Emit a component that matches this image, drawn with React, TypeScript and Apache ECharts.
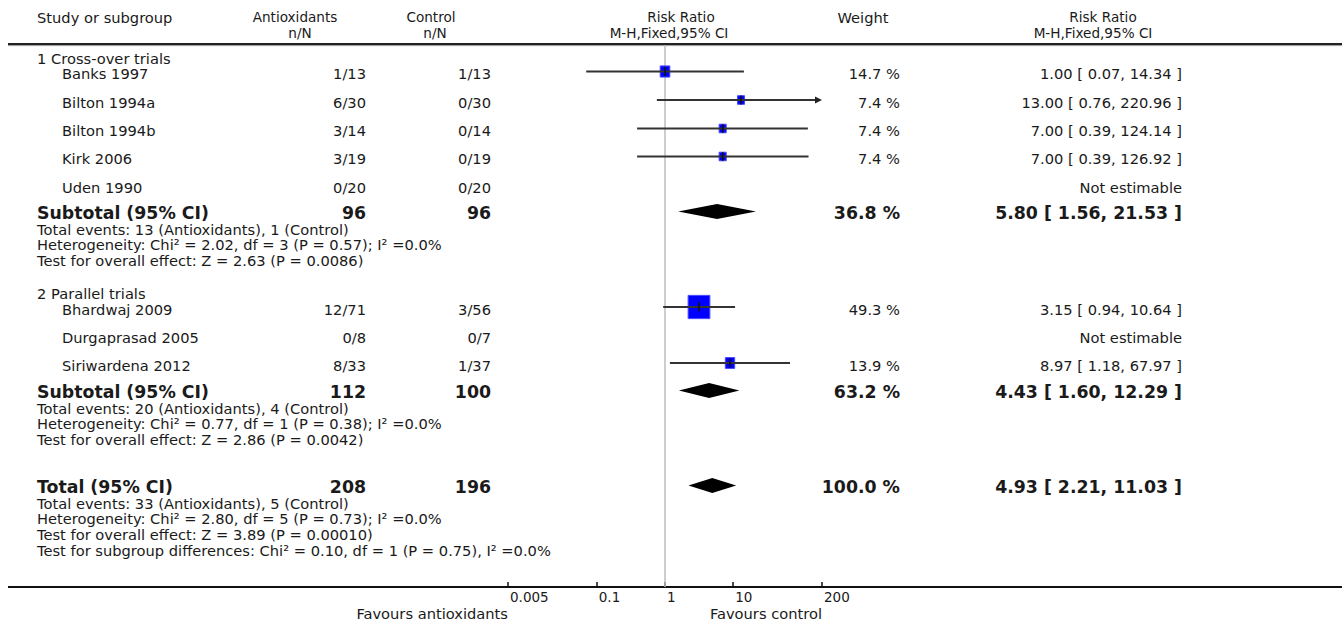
import React, { useEffect, useRef } from "react";
import * as echarts from "echarts";

// ---------- data ----------
const studyNames = ["Banks 1997", "Bilton 1994a", "Bilton 1994b", "Kirk 2006", "Uden 1990", "Bhardwaj 2009", "Durgaprasad 2005", "Siriwardena 2012"];
const antiEvents = [1, 6, 3, 3, 0, 12, 0, 8];
const antiTotal = [13, 30, 14, 19, 20, 71, 8, 33];
const ctrlEvents = [1, 0, 0, 0, 0, 3, 0, 1];
const ctrlTotal = [13, 30, 14, 19, 20, 56, 7, 37];
const weights: (number | null)[] = [14.7, 7.4, 7.4, 7.4, null, 49.3, null, 13.9];
const riskRatio: (number | null)[] = [1.0, 13.0, 7.0, 7.0, null, 3.15, null, 8.97];
const ciLower: (number | null)[] = [0.07, 0.76, 0.39, 0.39, null, 0.94, null, 1.18];
const ciUpper: (number | null)[] = [14.34, 220.96, 124.14, 126.92, null, 10.64, null, 67.97];

const groupTitles = ["1 Cross-over trials", "2 Parallel trials"];
const pooledLabels = ["Subtotal (95% CI)", "Subtotal (95% CI)", "Total (95% CI)"];
const pooledAntiTotal = [96, 112, 208];
const pooledCtrlTotal = [96, 100, 196];
const pooledWeight = [36.8, 63.2, 100.0];
const pooledRR = [5.8, 4.43, 4.93];
const pooledLower = [1.56, 1.6, 2.21];
const pooledUpper = [21.53, 12.29, 11.03];
const pooledNotes = [
  [
    "Total events: 13 (Antioxidants), 1 (Control)",
    "Heterogeneity: Chi² = 2.02, df = 3 (P = 0.57); I² =0.0%",
    "Test for overall effect: Z = 2.63 (P = 0.0086)",
  ],
  [
    "Total events: 20 (Antioxidants), 4 (Control)",
    "Heterogeneity: Chi² = 0.77, df = 1 (P = 0.38); I² =0.0%",
    "Test for overall effect: Z = 2.86 (P = 0.0042)",
  ],
  [
    "Total events: 33 (Antioxidants), 5 (Control)",
    "Heterogeneity: Chi² = 2.80, df = 5 (P = 0.73); I² =0.0%",
    "Test for overall effect: Z = 3.89 (P = 0.00010)",
    "Test for subgroup differences: Chi² = 0.10, df = 1 (P = 0.75), I² =0.0%",
  ],
];

const axisTicks = [0.005, 0.1, 1, 10, 200];
const axisTickLabels = ["0.005", "0.1", "1", "10", "200"];
const axisMin = 0.005;
const axisMax = 200;

// ---------- layout ----------
const W = 1342;
const H = 622;
const PLOT_LEFT = 508;
const PLOT_RIGHT = 822;
const HEADER_LINE_Y = 44;
const AXIS_Y = 587;
const studyRowY = [73.5, 102, 130.5, 158.5, 187, 309, 337, 365];
const groupTitleY = [58, 293];
const pooledRowY = [213, 392, 487];
const NOTE_GAP = 16;
const NOTE_STEP = 15.7;

const FONT = "'DejaVu Sans', 'Verdana', sans-serif";
const TXT = "#1a1a1a";
const REG = 14.67;
const HEAD = 13.6;
const BOLD = 17.33;

const fmt2 = (v: number) => v.toFixed(2);
const rrText = (r: number, l: number, u: number) => `${fmt2(r)} [ ${fmt2(l)}, ${fmt2(u)} ]`;

function txt(text: string, x: number, y: number, align: string, size = REG, weight = "normal") {
  return {
    type: "text",
    x,
    y,
    silent: true,
    style: {
      text,
      fill: TXT,
      fontSize: size,
      fontFamily: FONT,
      fontWeight: weight,
      align,
      textAlign: align,
      verticalAlign: "middle",
      textVerticalAlign: "middle",
    },
  };
}

function buildGraphics() {
  const g: any[] = [];
  const R1 = 17;
  const R2 = 33;
  // header
  g.push(txt("Study or subgroup", 37, R1, "left", REG));
  g.push(txt("Antioxidants", 295, R1, "center", HEAD));
  g.push(txt("n/N", 300, R2, "center", HEAD));
  g.push(txt("Control", 431, R1, "center", HEAD));
  g.push(txt("n/N", 435, R2, "center", HEAD));
  g.push(txt("Risk Ratio", 681, R1, "center", HEAD));
  g.push(txt("M-H,Fixed,95% CI", 669, R2, "center", HEAD));
  g.push(txt("Weight", 863, R1, "center", REG));
  g.push(txt("Risk Ratio", 1103, R1, "center", HEAD));
  g.push(txt("M-H,Fixed,95% CI", 1093, R2, "center", HEAD));
  g.push({ type: "line", silent: true, shape: { x1: 8, y1: HEADER_LINE_Y, x2: W, y2: HEADER_LINE_Y }, style: { stroke: "#222", lineWidth: 2 } });
  g.push({ type: "line", silent: true, shape: { x1: 8, y1: HEADER_LINE_Y + 1.6, x2: W, y2: HEADER_LINE_Y + 1.6 }, style: { stroke: "#999", lineWidth: 1 } });

  // group titles
  groupTitles.forEach((t, i) => g.push(txt(t, 37, groupTitleY[i], "left")));

  // studies
  studyNames.forEach((n, i) => {
    const y = studyRowY[i];
    g.push(txt(n, 62, y, "left"));
    g.push(txt(`${antiEvents[i]}/${antiTotal[i]}`, 366, y, "right"));
    g.push(txt(`${ctrlEvents[i]}/${ctrlTotal[i]}`, 491, y, "right"));
    const w = weights[i];
    const r = riskRatio[i];
    if (w != null && r != null) {
      g.push(txt(`${w.toFixed(1)} %`, 900, y, "right"));
      g.push(txt(rrText(r, ciLower[i] as number, ciUpper[i] as number), 1182, y, "right"));
    } else {
      g.push(txt("Not estimable", 1182, y, "right"));
    }
  });

  // pooled rows
  pooledLabels.forEach((lab, i) => {
    const y = pooledRowY[i];
    g.push(txt(lab, 37, y, "left", BOLD, "bold"));
    g.push(txt(String(pooledAntiTotal[i]), 366, y, "right", BOLD, "bold"));
    g.push(txt(String(pooledCtrlTotal[i]), 491, y, "right", BOLD, "bold"));
    g.push(txt(`${pooledWeight[i].toFixed(1)} %`, 900, y, "right", BOLD, "bold"));
    g.push(txt(rrText(pooledRR[i], pooledLower[i], pooledUpper[i]), 1182, y, "right", BOLD, "bold"));
    pooledNotes[i].forEach((note, k) => {
      g.push(txt(note, 37, y + NOTE_GAP + k * NOTE_STEP, "left"));
    });
  });

  // bottom axis line + favours labels
  g.push({ type: "line", silent: true, shape: { x1: 8, y1: AXIS_Y, x2: W, y2: AXIS_Y }, style: { stroke: "#111", lineWidth: 2 } });
  g.push(txt("Favours antioxidants", PLOT_LEFT, 613, "right"));
  g.push(txt("Favours control", PLOT_RIGHT, 613, "right"));
  return g;
}

const L = (v: number) => Math.log10(v);

export default function App() {
  const ref = useRef<HTMLDivElement>(null);
  useEffect(() => {
    if (!ref.current) return;
    const chart = echarts.init(ref.current, undefined, { renderer: "svg" });

    const studyData: any[] = [];
    riskRatio.forEach((r, i) => {
      if (r == null) return;
      studyData.push([L(r), L(ciLower[i] as number), L(ciUpper[i] as number), weights[i], studyRowY[i]]);
    });
    const pooledData = pooledRR.map((r, i) => [L(r), L(pooledLower[i]), L(pooledUpper[i]), pooledWeight[i], pooledRowY[i]]);
    const lMax = L(axisMax);

    const option: any = {
      animation: false,
      backgroundColor: "#fff",
      textStyle: { fontFamily: FONT },
      grid: { left: PLOT_LEFT, right: W - PLOT_RIGHT, top: HEADER_LINE_Y, bottom: H - AXIS_Y, containLabel: false },
      xAxis: {
        type: "value",
        min: L(axisMin),
        max: L(axisMax),
        position: "bottom",
        splitLine: { show: false },
        axisLine: { show: true, lineStyle: { color: "#111", width: 2 } },
        axisTick: { show: true, inside: true, length: 5, lineStyle: { color: "#111", width: 1.5 }, customValues: axisTicks.map(L) },
        axisLabel: {
          show: true,
          customValues: axisTicks.map(L),
          align: "left",
          margin: 3,
          padding: [0, 0, 0, 2],
          fontSize: 13.5,
          fontFamily: FONT,
          color: TXT,
          formatter: (v: number) => {
            const i = axisTicks.findIndex((t) => Math.abs(L(t) - v) < 1e-6);
            return i >= 0 ? axisTickLabels[i] : "";
          },
        },
      },
      yAxis: { type: "value", inverse: true, min: HEADER_LINE_Y, max: AXIS_Y, show: false },
      graphic: buildGraphics(),
      series: [
        {
          type: "custom",
          name: "reference",
          silent: true,
          z: 1,
          data: [[0, 300]],
          encode: { x: 0, y: 1 },
          renderItem: (params: any, api: any) => {
            const cs = params.coordSys;
            const x = api.coord([api.value(0), api.value(1)])[0];
            return {
              type: "line",
              shape: { x1: x, y1: cs.y + 1, x2: x, y2: cs.y + cs.height },
              style: { stroke: "#bdbdbd", lineWidth: 1.5 },
            };
          },
        },
        {
          type: "custom",
          name: "studies",
          silent: true,
          z: 3,
          data: studyData,
          encode: { x: [0, 1, 2], y: 4 },
          renderItem: (params: any, api: any) => {
            const y = api.value(4);
            const hiV = api.value(2);
            const [xr, yr] = api.coord([api.value(0), y]);
            const ym = yr - 2;
            const xl = api.coord([api.value(1), y])[0];
            const arrow = hiV > lMax;
            const xh = api.coord([Math.min(hiV, lMax), y])[0];
            const w = api.value(3);
            const bw = 4.5 + 0.35 * w;
            const bh = bw + 1.5;
            const children: any[] = [
              { type: "rect", shape: { x: xr - bw / 2, y: ym - bh / 2, width: bw, height: bh }, style: { fill: "#0000ff", stroke: "#4a4aff", lineWidth: 1 } },
              { type: "line", shape: { x1: xl, y1: ym, x2: arrow ? xh - 4 : xh, y2: ym }, style: { stroke: "#333", lineWidth: 2 } },
              { type: "line", shape: { x1: xr, y1: ym - 4.5, x2: xr, y2: ym + 4.5 }, style: { stroke: "#111", lineWidth: 1.5 } },
            ];
            if (arrow) {
              children.push({
                type: "polygon",
                shape: { points: [[xh, ym], [xh - 7, ym - 3.5], [xh - 7, ym + 3.5]] },
                style: { fill: "#222" },
              });
            }
            return { type: "group", children };
          },
        },
        {
          type: "custom",
          name: "pooled",
          silent: true,
          z: 3,
          data: pooledData,
          encode: { x: [0, 1, 2], y: 4 },
          renderItem: (params: any, api: any) => {
            const y = api.value(4);
            const [xr, yr] = api.coord([api.value(0), y]);
            const ym = yr - 1.5;
            const xl = api.coord([api.value(1), y])[0];
            const xh = api.coord([api.value(2), y])[0];
            const hh = 7.5;
            return {
              type: "polygon",
              shape: { points: [[xl, ym], [xr, ym - hh], [xh, ym], [xr, ym + hh]] },
              style: { fill: "#000" },
            };
          },
        },
      ],
    };
    chart.setOption(option);
    return () => chart.dispose();
  }, []);

  return (
    <div
      ref={ref}
      style={{ position: "fixed", left: 0, top: 0, width: W, height: H, background: "#fff" }}
    />
  );
}
